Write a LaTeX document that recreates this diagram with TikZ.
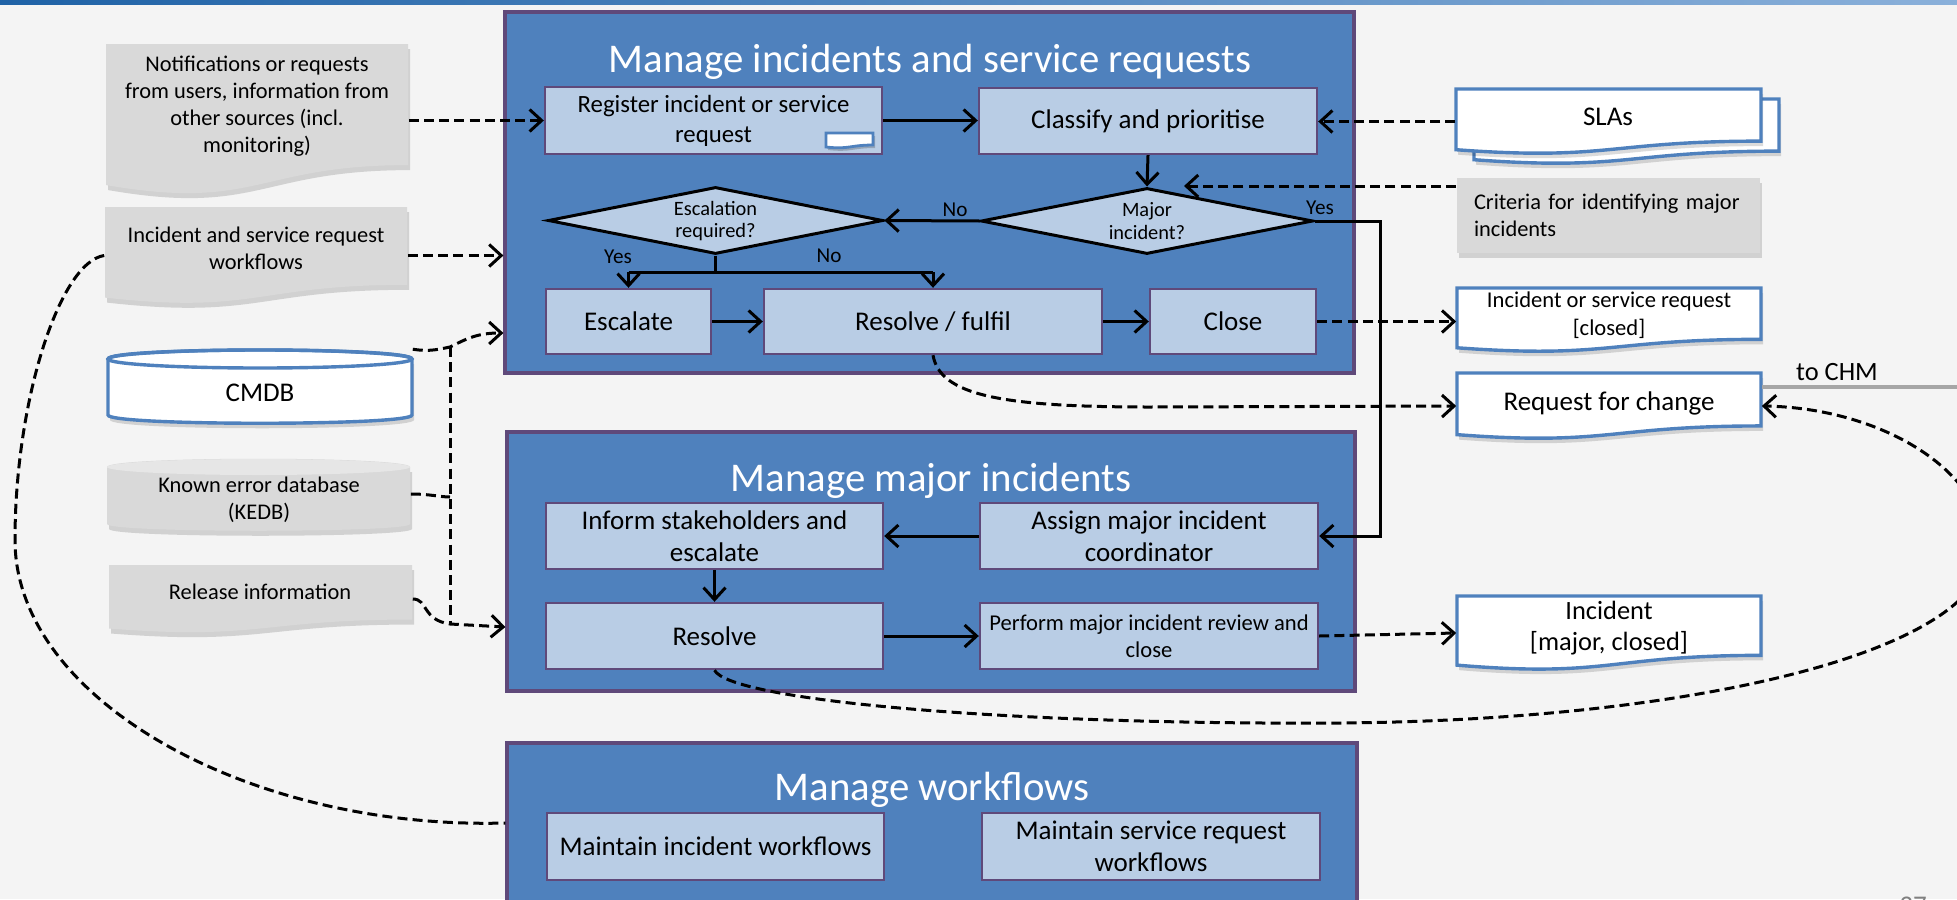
\documentclass[tikz,border=0pt]{standalone}
\usepackage{fontspec}
\setmainfont{Carlito}
\usetikzlibrary{arrows.meta,shapes.geometric}
\definecolor{bgc}{HTML}{F4F4F4}
\definecolor{bigfill}{HTML}{4F81BD}
\definecolor{bigline}{HTML}{5F497A}
\definecolor{innerc}{HTML}{B9CDE5}
\definecolor{docline}{HTML}{4F81BD}
\definecolor{greydoc}{HTML}{D9D9D9}
\definecolor{greytop}{HTML}{E6E6E6}
\definecolor{chmline}{HTML}{A6A6A6}
\definecolor{barL}{HTML}{1F62A6}
\definecolor{barR}{HTML}{8AB0DA}
\newcommand{\fTitle}{\fontsize{10.2pt}{12pt}\selectfont}
\newcommand{\fBx}{\fontsize{6.75pt}{8pt}\selectfont}
\newcommand{\fReg}{\fontsize{6.2pt}{7.5pt}\selectfont}
\newcommand{\fDoc}{\fontsize{5.6pt}{6.75pt}\selectfont}
\newcommand{\fDia}{\fontsize{5.1pt}{5.7pt}\selectfont}
\newcommand{\fLab}{\fontsize{5.3pt}{6pt}\selectfont}
\newcommand{\fPerf}{\fontsize{5.65pt}{6.75pt}\selectfont}
\newcommand{\fIncm}{\fontsize{6.6pt}{7.75pt}\selectfont}
\newcommand{\fIncc}{\fontsize{5.65pt}{7pt}\selectfont}
\newcommand{\fChm}{\fontsize{6.6pt}{7.5pt}\selectfont}
\newcommand{\docpath}[5]{\path[#1] (#2,#3) -- (#4,#3) -- (#4,{#3+0.802*(#5)}) .. controls ({(#2+#4)/2},{#3+0.802*(#5)}) and ({(#2+#4)/2},{#3+1.108*(#5)}) .. (#2,{#3+0.934*(#5)}) -- cycle;}
\newcommand{\docnode}[6]{\docpath{fill=black,opacity=0.14,shift={(2,5)}}{#2}{#3}{#4}{#5}\docpath{#6}{#2}{#3}{#4}{#5}\node[inner sep=0pt,wh={#4-#2}{#5}] (#1) at ({(#2+#4)/2},{#3+(#5)/2}) {};}
\begin{document}
\begin{tikzpicture}[x=0.25pt,y=-0.25pt,
  wh/.style 2 args={minimum width=(#1)*0.25pt, minimum height=(#2)*0.25pt},
  bigbox/.style={draw=bigline, line width=0.8pt, fill=bigfill, inner sep=0pt},
  ibox/.style={draw=bigline, line width=0.6pt, fill=innerc, inner sep=1pt, align=center, font=\fBx},
  diam/.style={diamond, draw=black, line width=0.75pt, fill=innerc, inner sep=0pt},
  txt/.style={inner sep=0pt, align=center, text=black},
  ttl/.style={inner sep=0pt, anchor=base, text=white, font=\fTitle},
  wdoc/.style={fill=white, draw=docline, line width=0.85pt},
  gdoc/.style={fill=greydoc},
  ln/.style={line width=0.75pt},
  arr/.style={ln, -{Straight Barb[length=3pt,width=5.5pt]}},
  dsh/.style={line width=0.75pt, dash pattern=on 2.5pt off 1.3pt},
  darr/.style={dsh, -{Straight Barb[length=3pt,width=5.5pt]}}]
\useasboundingbox (0,0) rectangle (1957,899);
\begin{scope}
\clip (0,0) rectangle (1957,899);
\fill[bgc] (0,0) rectangle (1957,899);
\shade[left color=barL, right color=barR] (0,0) rectangle (1957,4);

% big boxes
\node[bigbox, wh={849}{361}] (b1) at (929.5,192.5) {};
\node[bigbox, wh={848}{259}] (b2) at (931,561.5) {};
\node[bigbox, wh={850}{187}] (b3) at (932,836.5) {};
\node[ttl] (t1) at (930,72) {Manage incidents and service requests};
\node[ttl] (t2) at (931,491) {Manage major incidents};
\node[ttl] (t3) at (932,800) {Manage workflows};

% inner boxes
\node[ibox, wh={337}{67}, font=\fReg] (reg) at (713.5,120.5) {Register incident or service\\request};
\docpath{fill=black,opacity=0.2,shift={(2,3)}}{826}{133}{873}{15}
\docpath{fill=white,draw=docline,line width=0.7pt}{826}{133}{873}{15}
\node[ibox, wh={338}{66}] (cls) at (1148,121) {Classify and prioritise};
\node[ibox, wh={165}{65}] (escb) at (628.5,321.5) {Escalate};
\node[ibox, wh={338}{65}] (rf) at (933,321.5) {Resolve / fulfil};
\node[ibox, wh={166}{65}] (close) at (1233,321.5) {Close};
\node[ibox, wh={337}{66}] (inform) at (714.5,536) {Inform stakeholders and\\escalate};
\node[ibox, wh={338}{66}] (assign) at (1149,536) {Assign major incident\\coordinator};
\node[ibox, wh={337}{66}] (res2) at (714.5,636) {Resolve};
\node[ibox, wh={338}{66}, font=\fPerf] (perf) at (1149,636) {Perform major incident review and\\close};
\node[ibox, wh={337}{67}] (miw) at (715.5,846.5) {Maintain incident workflows};
\node[ibox, wh={338}{67}] (msrw) at (1151,846.5) {Maintain service request\\workflows};

% diamonds
\node[diam, wh={332}{66}] (majd) at (1147,221) {};
\node[txt, font=\fDia] (majt) at (1147,221) {Major\\incident?};
\node[diam, wh={335}{67}] (escd) at (715.5,220.5) {};
\node[txt, font=\fDia] (esct) at (715.5,221) {Escalation\\required?};
\node[txt, font=\fLab] (lno1) at (955,210) {No};
\node[txt, font=\fLab] (lyes1) at (618,257) {Yes};
\node[txt, font=\fLab] (lno2) at (829,256) {No};
\node[txt, font=\fLab] (lyes2) at (1320,208) {Yes};

% left inputs
\docnode{notif}{106}{44}{408}{151}{gdoc}
\node[txt, font=\fDoc] (notift) at (257,106) {Notifications or requests\\from users, information from\\other sources (incl.\\monitoring)};
\docnode{wf}{105}{207}{407}{97}{gdoc}
\node[txt, font=\fDoc] (wft) at (256,248) {Incident and service request\\workflows};
% CMDB cylinder
\path[fill=black,opacity=0.14,shift={(2,5)}] (108,359) -- (108,415) .. controls (108,426) and (412,426) .. (412,415) -- (412,359) -- cycle;
\path[fill=white, draw=docline, line width=0.85pt] (108,359) -- (108,415) .. controls (108,426) and (412,426) .. (412,415) -- (412,359) .. controls (412,347) and (108,347) .. cycle;
\draw[docline, line width=0.85pt] (260,359) ellipse [x radius=38pt, y radius=2.25pt];
\node[inner sep=0pt, wh={304}{73}] (cmdb) at (260,386.5) {};
\node[txt, font=\fBx] (cmdbt) at (260,393) {CMDB};
% KEDB cylinder
\path[fill=black,opacity=0.14,shift={(2,5)}] (107,467) -- (107,524) .. controls (107,533) and (410,533) .. (410,524) -- (410,467) -- cycle;
\path[fill=greydoc] (107,467) -- (107,524) .. controls (107,533) and (410,533) .. (410,524) -- (410,467) .. controls (410,456) and (107,456) .. cycle;
\fill[greytop] (258.5,467) ellipse [x radius=37.875pt, y radius=2pt];
\node[inner sep=0pt, wh={303}{72}] (kedb) at (258.5,494) {};
\node[txt, font=\fDoc] (kedbt) at (259,500) {Known error database\\(KEDB)};
\docnode{rel}{109}{565}{412}{68}{gdoc}
\node[txt, font=\fDoc] (relt) at (260,592) {Release information};

% right outputs
\docnode{slab}{1474}{99}{1779}{65}{wdoc}
\docnode{sla}{1456}{89}{1761}{65}{wdoc}
\node[txt, font=\fBx] (slat) at (1608,117) {SLAs};
\fill[black,opacity=0.14] (1459,183) rectangle (1762,258);
\node[fill=greydoc, inner sep=0pt, wh={303}{75}, text width=67.25pt, align=left, font=\fDoc] (crit) at (1608.5,215.5) {Criteria for identifying major\\incidents};
\docnode{incc}{1457}{288}{1761}{64}{wdoc}
\node[txt, font=\fIncc] (incct) at (1609,315) {Incident or service request\\{}[closed]};
\docnode{rfc}{1457}{373}{1761}{66}{wdoc}
\node[txt, font=\fBx] (rfct) at (1609,403) {Request for change};
\docnode{incm}{1457}{596}{1761}{74}{wdoc}
\node[txt, font=\fIncm] (incmt) at (1609,628) {Incident\\{}[major, closed]};

% to CHM
\coordinate (chmy) at (0,387);
\coordinate (chmend) at (1960,387);
\draw[chmline, line width=0.85pt] (rfc.east |- chmy) -- (chmend);
\node[txt, font=\fChm, text=black] (chm) at (1837,372) {to CHM};

% coordinates
\coordinate (brc) at (0,272);
\coordinate (c186) at (0,186);
\coordinate (majtip) at (1184,186);
\coordinate (c333) at (0,333);
\coordinate (jtop) at (450,347);
\coordinate (jk) at (450,497);
\coordinate (jbot) at (450,624);
\coordinate (c627) at (0,627);
\coordinate (c823) at (0,823);

% solid connectors
\draw[arr] (reg.east) -- (reg.east -| cls.west);
\draw[arr] (cls.south) -- (majd.north);
\draw[arr] (majd.west) -- (escd.east);
\draw[ln] (escd.south) -- (escd.south |- brc);
\draw[ln] (escb.north |- brc) -- (rf.north |- brc);
\draw[arr] (escb.north |- brc) -- (escb.north);
\draw[arr] (rf.north |- brc) -- (rf.north);
\draw[arr] (escb.east) -- (rf.west);
\draw[arr] (rf.east) -- (close.west);
\draw[arr] (majd.east) -- ++(66,0) |- (assign.east);
\draw[arr] (assign.west) -- (inform.east);
\draw[arr] (inform.south) -- (res2.north);
\draw[arr] (res2.east) -- (perf.west);

% dashed connectors
\draw[darr] (notif.east |- reg.west) -- (reg.west);
\draw[darr] (wf.east) -- (wf.east -| b1.west);
\draw[darr] (sla.west) -- (sla.west -| cls.east);
\draw[darr] (crit.west |- c186) -- (majtip);
\draw[darr] (close.east) -- (close.east -| incc.west);
\draw[darr] (rf.south) .. controls (940,395) and (1000,407) .. (1150,407) -- (rfc.west);
\draw[darr] (perf.east) -- (incm.west);
\draw[darr] (res2.south) .. controls (730,700) and (1000,725) .. (1340,723) .. controls (1700,720) and (1985,650) .. (1985,550) .. controls (1985,470) and (1880,408) .. (rfc.east);
\draw[darr] (cmdb.north east) .. controls (430,352) and (440,349) .. (jtop) .. controls (468,338) and (478,333) .. (b1.west |- c333);
\draw[dsh] (jtop) -- (jbot);
\draw[dsh] (kedb.east) .. controls (430,494) and (440,497) .. (jk);
\draw[darr] (rel.east) .. controls (428,599) and (422,620) .. (jbot) -- (b2.west |- c627);
\draw[dsh] (wf.west) .. controls (60,262) and (15,400) .. (15,540) .. controls (15,700) and (250,830) .. (b3.west |- c823);

\node[anchor=north, inner sep=0pt, font=\fBx, text=gray] (pg) at (1913,896) {37};
\end{scope}
\end{tikzpicture}
\end{document}
